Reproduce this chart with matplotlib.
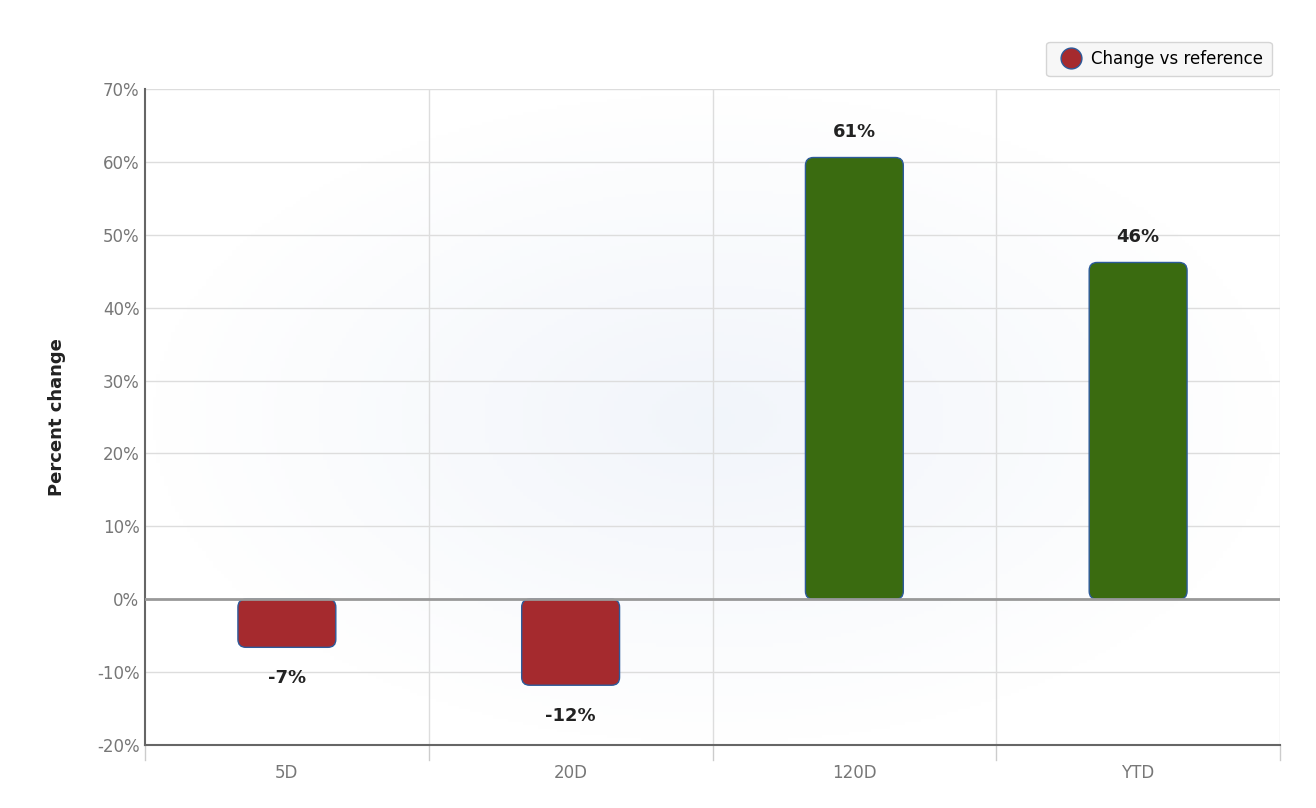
import matplotlib
matplotlib.use("Agg")
import matplotlib.pyplot as plt
import numpy as np
from matplotlib.patches import FancyBboxPatch
from matplotlib.lines import Line2D

categories = ["5D", "20D", "120D", "YTD"]
values = [-6.6, -11.8, 60.6, 46.2]
colors = ["#a52a2e" if v < 0 else "#3a6b10" for v in values]

fig = plt.figure(figsize=(13.16, 8.08), dpi=100)
ax = fig.add_axes([145/1316, 1-745/808, (1280-145)/1316, (745-89)/808])
ax.set_xlim(-0.5, 3.5)
ax.set_ylim(-20, 70)

# subtle radial background
yy, xx = np.mgrid[0:200, 0:300]
r = np.sqrt(((xx-150)/150)**2 + ((yy-100)/100)**2)
alpha = np.clip(1-r, 0, 1)
img = np.zeros((200, 300, 4))
img[..., 0] = 0.85; img[..., 1] = 0.89; img[..., 2] = 0.95
img[..., 3] = alpha*0.35
ax.imshow(img, extent=(-0.5, 3.5, -20, 70), aspect="auto", zorder=0)

ax.set_yticks(range(-20, 71, 10))
ax.set_yticklabels([f"{t}%" for t in range(-20, 71, 10)], color="#777777", fontsize=12)
ax.set_xticks(range(4))
ax.set_xticklabels(categories, color="#777777", fontsize=12)
ax.tick_params(axis="x", length=0, pad=14)
ax.tick_params(axis="y", length=0, pad=4)
ax.grid(axis="y", color="#dddddd", lw=1, zorder=1)
for b in [0.5, 1.5, 2.5, 3.5]:
    ax.axvline(b, color="#dddddd", lw=1, zorder=1)
for b in [-0.5, 0.5, 1.5, 2.5, 3.5]:
    ax.plot([b, b], [-20, -22], color="#cccccc", lw=1, clip_on=False)
ax.axhline(0, color="#999999", lw=2, zorder=3)
for s in ["top", "right"]:
    ax.spines[s].set_visible(False)
ax.spines["left"].set_color("#666666")
ax.spines["bottom"].set_color("#666666")
ax.spines["bottom"].set_linewidth(1.5)
ax.spines["left"].set_linewidth(1.5)

w = 0.345
# aspect: data units per px
xu = 4/1135; yu = 90/656
for i, (v, c) in enumerate(zip(values, colors)):
    y0 = min(0, v); h = abs(v)
    p = FancyBboxPatch((i-w/2, y0), w, h,
                       boxstyle=f"round,pad=0,rounding_size={8*xu}",
                       mutation_aspect=yu/xu, fc=c, ec="#2c5a9a", lw=1, zorder=2)
    ax.add_patch(p)
    lab = f"{round(v)}%"
    if v >= 0:
        ax.text(i, v+3.5, lab, ha="center", va="center", fontsize=13, fontweight="bold", color="#222222")
    else:
        ax.text(i, v-4.2, lab, ha="center", va="center", fontsize=13, fontweight="bold", color="#222222")

ax.set_ylabel("Percent change", fontsize=13, fontweight="bold", color="#222222", labelpad=22)

h = Line2D([], [], marker="o", ls="", markersize=15, mfc="#a52a2e", mec="#2c5a9a")
leg = ax.legend([h], ["Change vs reference"], loc="upper right", bbox_to_anchor=(1.0, 1.085),
                fontsize=12, frameon=True, fancybox=True, handletextpad=0.2, borderpad=0.5)
leg.get_frame().set_facecolor("#f6f6f6")
leg.get_frame().set_edgecolor("#cccccc")

fig.savefig("out.png", dpi=100)
